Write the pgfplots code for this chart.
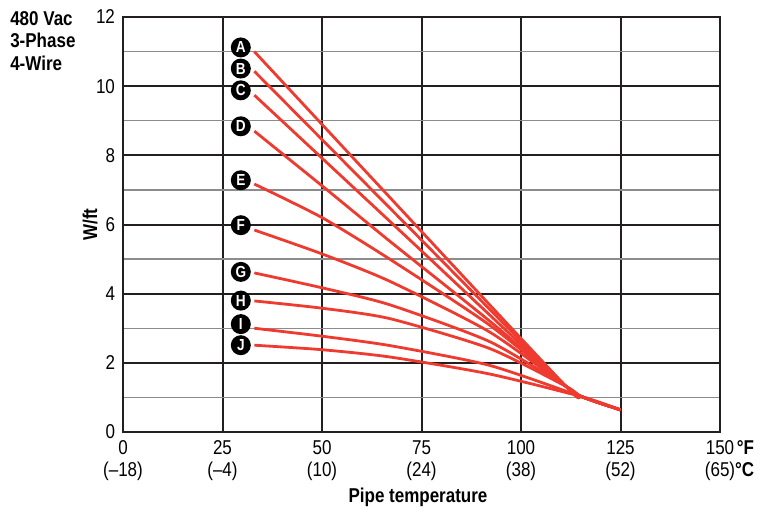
\documentclass[border=0pt]{standalone}
\usepackage{fontspec}
\setmainfont{Liberation Sans}[FakeStretch=0.85]
\usepackage{pgfplots}
\pgfplotsset{compat=1.18}
\usetikzlibrary{calc}

\definecolor{curve}{RGB}{238,58,47}
\definecolor{gridmaj}{RGB}{35,31,32}
\definecolor{gridmin}{RGB}{140,140,140}

\pgfplotsset{heat/.style={curve, line width=2.1pt, line join=round,
    smooth, tension=0.4, mark=none}}

\begin{document}
\begin{tikzpicture}

  \begin{axis}[
      name=ax,
      width=447.75pt, height=311.25pt, scale only axis,
      xmin=0, xmax=150, ymin=0, ymax=12,
      xtick={0,25,...,150},
      xticklabels={0\\(--18), 25\\(--4), 50\\(10), 75\\(24), 100\\(38), 125\\(52),
        {150\rlap{\hspace{2pt}\textbf{°F}}\\(65)\rlap{\textbf{°C}}}},
      ytick={0,2,...,12},
      minor ytick={1,3,...,11},
      grid=both,
      major grid style={gridmaj, line width=1.5pt},
      minor grid style={gridmin, line width=1.1pt},
      axis line style={gridmaj, line width=1.8pt},
      major tick length=0pt, minor tick length=0pt,
      tick label style={font=\fontsize{15}{16.5}\selectfont},
      xticklabel style={align=center, yshift=-3pt},
      yticklabel style={xshift=-2.5pt},
      /pgf/number format/assume math mode=true,
      clip=false,
    ]

    % A
    \addplot[heat] coordinates {
      (33,11.0) (72,6.17) (111.3,1.32) (115.3,1.02) (125,0.64)};
    % B
    \addplot[heat] coordinates {
      (33,10.43) (72,5.9) (111.3,1.32) (115.3,1.02) (125,0.64)};
    % C
    \addplot[heat] coordinates {
      (33,9.74) (72,5.56) (111.3,1.32) (115.3,1.02) (125,0.64)};
    % D
    \addplot[heat] coordinates {
      (33,8.7) (50,7.12) (67,5.52) (92,3.22) (111.3,1.32) (115.3,1.02) (125,0.64)};
    % E
    \addplot[heat] coordinates {
      (33,7.17) (50,6.2) (67,5.0) (92,3.1) (111.3,1.32) (115.3,1.02) (125,0.64)};
    % F
    \addplot[heat] coordinates {
      (33,5.84) (50,5.15) (67,4.36) (92,2.9) (111.3,1.32) (115.3,1.02) (125,0.64)};
    % G
    \addplot[heat] coordinates {
      (33,4.6) (50,4.17) (67,3.68) (92,2.62) (111.3,1.32) (115.3,1.02) (125,0.64)};
    % H
    \addplot[heat] coordinates {
      (33,3.79) (50,3.58) (67,3.28) (92,2.42) (111.3,1.32) (115.3,1.02) (125,0.64)};
    % I
    \addplot[heat] coordinates {
      (33,3.0) (50,2.77) (67,2.5) (92,1.93) (115.3,1.02) (125,0.64)};
    % J
    \addplot[heat] coordinates {
      (33,2.51) (50,2.38) (67,2.17) (92,1.68) (115.3,1.02) (125,0.64)};

    % curve letters
    \addplot[draw=none, mark=none,
      nodes near coords, point meta=explicit symbolic,
      nodes near coords style={anchor=center, circle, fill=black, text=white,
        inner sep=0pt, minimum size=15pt,
        font=\bfseries\fontsize{12}{12}\selectfont}]
      table[meta=lab] {
        x     y      lab
        29.6  11.12  A
        29.6  10.51  B
        29.6  9.88   C
        29.6  8.84   D
        29.6  7.28   E
        29.6  5.98   F
        29.6  4.63   G
        29.6  3.80   H
        29.6  3.12   I
        29.6  2.51   J
      };

  \end{axis}

  \node[rotate=90, font=\bfseries\fontsize{15}{16.5}\selectfont]
    at ($(ax.south west)+(-24.75pt,155.6pt)$) {W/ft};
  \node[anchor=base, font=\bfseries\fontsize{15}{16.5}\selectfont]
    at ($(ax.south west)+(221.25pt,-52.5pt)$) {Pipe temperature};
  \node[anchor=north west, align=left, inner sep=0pt,
    font=\bfseries\fontsize{15}{16.9}\selectfont]
    at ($(ax.north west)+(-84.75pt,4.5pt)$) {480 Vac\\3-Phase\\4-Wire};

  \path[use as bounding box] ($(ax.south west)+(-92.25pt,-60pt)$)
    rectangle ($(ax.north east)+(31.5pt,12.75pt)$);

\end{tikzpicture}
\end{document}
